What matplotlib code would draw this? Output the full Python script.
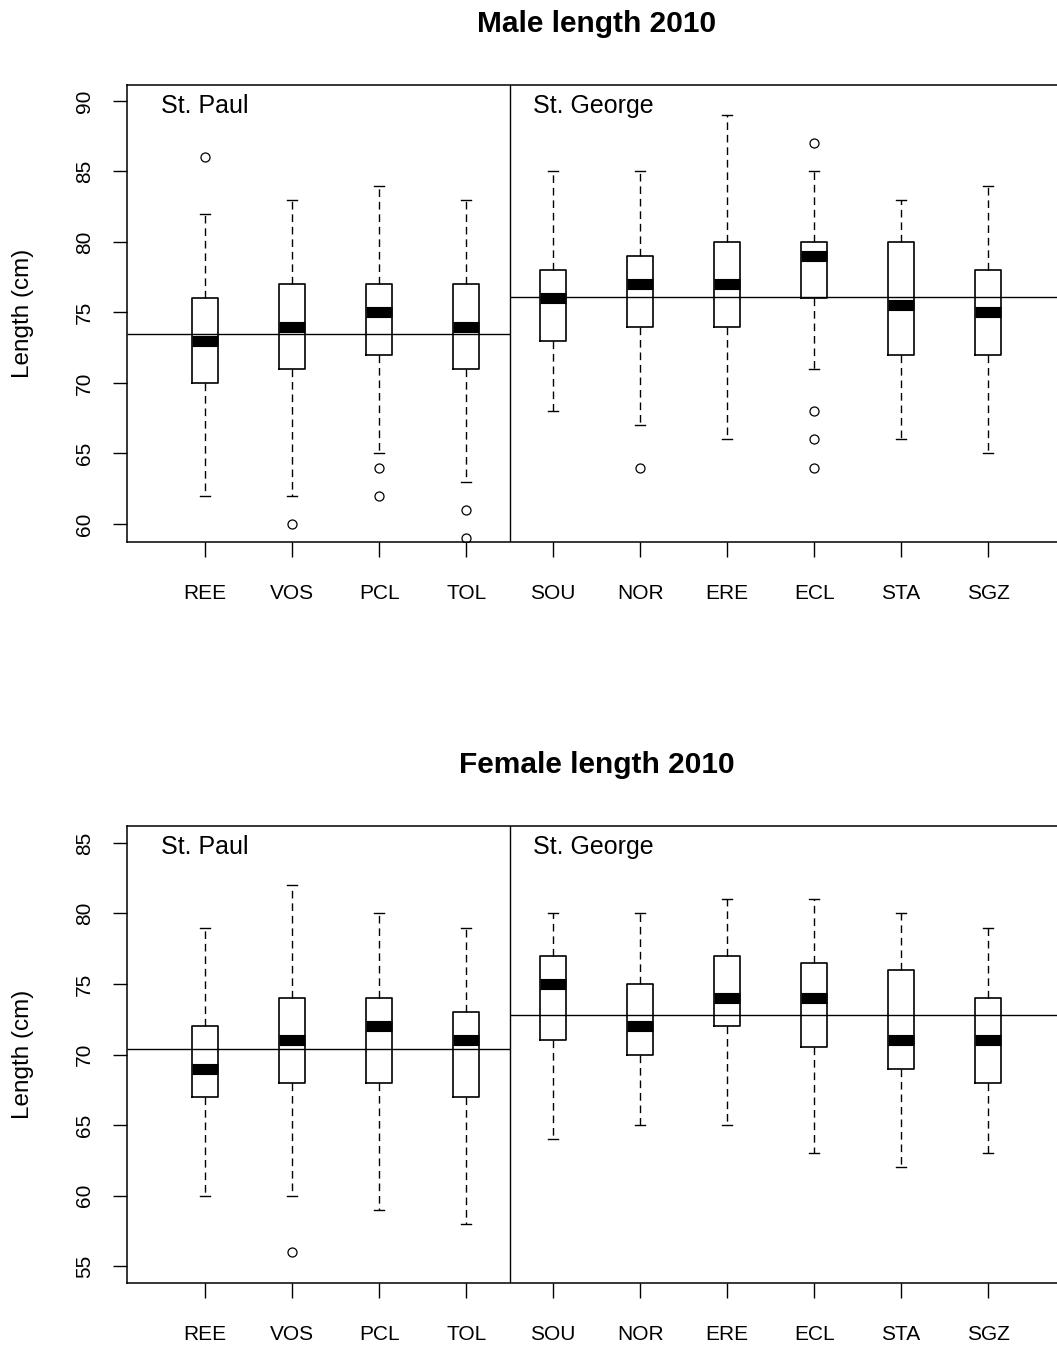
import numpy as np
import matplotlib
matplotlib.use("Agg")
import matplotlib.pyplot as plt

plt.rcParams['font.family'] = ['Liberation Sans', 'DejaVu Sans']

sites = ['REE', 'VOS', 'PCL', 'TOL', 'SOU', 'NOR', 'ERE', 'ECL', 'STA', 'SGZ']
islands = ['St. Paul', 'St. George']
n_paul = 4  # first four rookeries are on St. Paul

# male lengths (cm): lower whisker, q1, median, q3, upper whisker, outliers
male_lo = [62, 62, 65, 63, 68, 67, 66, 71, 66, 65]
male_q1 = [70, 71, 72, 71, 73, 74, 74, 76, 72, 72]
male_med = [73, 74, 75, 74, 76, 77, 77, 79, 75.5, 75]
male_q3 = [76, 77, 77, 77, 78, 79, 80, 80, 80, 78]
male_hi = [82, 83, 84, 83, 85, 85, 89, 85, 83, 84]
male_out = [[86], [60], [64, 62], [61, 59], [], [64], [], [87, 68, 66, 64], [], []]
male_mean = [73.5, 76.1]   # St. Paul, St. George

# female lengths (cm)
fem_lo = [60, 60, 59, 58, 64, 65, 65, 63, 62, 63]
fem_q1 = [67, 68, 68, 67, 71, 70, 72, 70.5, 69, 68]
fem_med = [69, 71, 72, 71, 75, 72, 74, 74, 71, 71]
fem_q3 = [72, 74, 74, 73, 77, 75, 77, 76.5, 76, 74]
fem_hi = [79, 82, 80, 79, 80, 80, 81, 81, 80, 79]
fem_out = [[], [56], [], [], [], [], [], [], [], []]
fem_mean = [70.4, 72.8]

male_ticks = [60, 65, 70, 75, 80, 85, 90]
fem_ticks = [55, 60, 65, 70, 75, 80, 85]


def make_stats(lo, q1, med, q3, hi, out):
    stats = []
    for i in range(len(lo)):
        stats.append(dict(whislo=lo[i], q1=q1[i], med=med[i], q3=q3[i],
                          whishi=hi[i], fliers=out[i]))
    return stats


def draw_panel(ax, stats, means, ticks, ylim, title):
    pos = np.arange(1, len(sites) + 1)
    ax.bxp(stats, positions=pos, widths=0.3, capwidths=0.12,
           showfliers=True, manage_ticks=False,
           boxprops=dict(color='black', linewidth=1.2),
           whiskerprops=dict(color='black', linewidth=1.0, linestyle=(0, (5.5, 3.5))),
           capprops=dict(color='black', linewidth=1.0),
           medianprops=dict(color='black', linewidth=8, solid_capstyle='butt'),
           flierprops=dict(marker='o', markersize=6.5, markerfacecolor='none',
                           markeredgecolor='black', markeredgewidth=0.9, linestyle='none'))
    split = n_paul + 0.5
    ax.set_xlim(0.1, 10.9)
    ax.set_ylim(*ylim)
    ax.axvline(split, color='black', linewidth=1.0)
    ax.hlines(means[0], 0.1, split, color='black', linewidth=1.0)
    ax.hlines(means[1], split, 10.9, color='black', linewidth=1.0)

    ax.set_xticks(pos)
    ax.set_xticklabels(sites, fontsize=15)
    ax.set_yticks(ticks)
    ax.set_yticklabels([str(t) for t in ticks], rotation=90, va='center', fontsize=15)
    ax.tick_params(axis='x', length=10.5, width=1.0, pad=20)
    ax.tick_params(axis='y', length=10, width=1.0, pad=14)
    for s in ax.spines.values():
        s.set_linewidth(1.1)

    ax.set_ylabel('Length (cm)', fontsize=17.5)
    ax.yaxis.set_label_coords(-0.099, 0.5)
    ax.set_title(title, fontsize=21.5, fontweight='bold', pad=38)

    ax.text(0.036, 0.954, islands[0], transform=ax.transAxes, fontsize=18, va='center')
    ax.text(0.432, 0.954, islands[1], transform=ax.transAxes, fontsize=18, va='center')


fig = plt.figure(figsize=(10.57, 13.47), dpi=100)
W, H = 1057.0, 1347.0
left = 127 / W
width = 939.3 / W
ax1 = fig.add_axes([left, (H - 542) / H, width, 457 / H])
ax2 = fig.add_axes([left, (H - 1283) / H, width, 457 / H])

draw_panel(ax1, make_stats(male_lo, male_q1, male_med, male_q3, male_hi, male_out),
           male_mean, male_ticks, (58.72, 91.13), 'Male length 2010')
draw_panel(ax2, make_stats(fem_lo, fem_q1, fem_med, fem_q3, fem_hi, fem_out),
           fem_mean, fem_ticks, (53.8, 86.2), 'Female length 2010')

fig.savefig('out.png', dpi=100)
